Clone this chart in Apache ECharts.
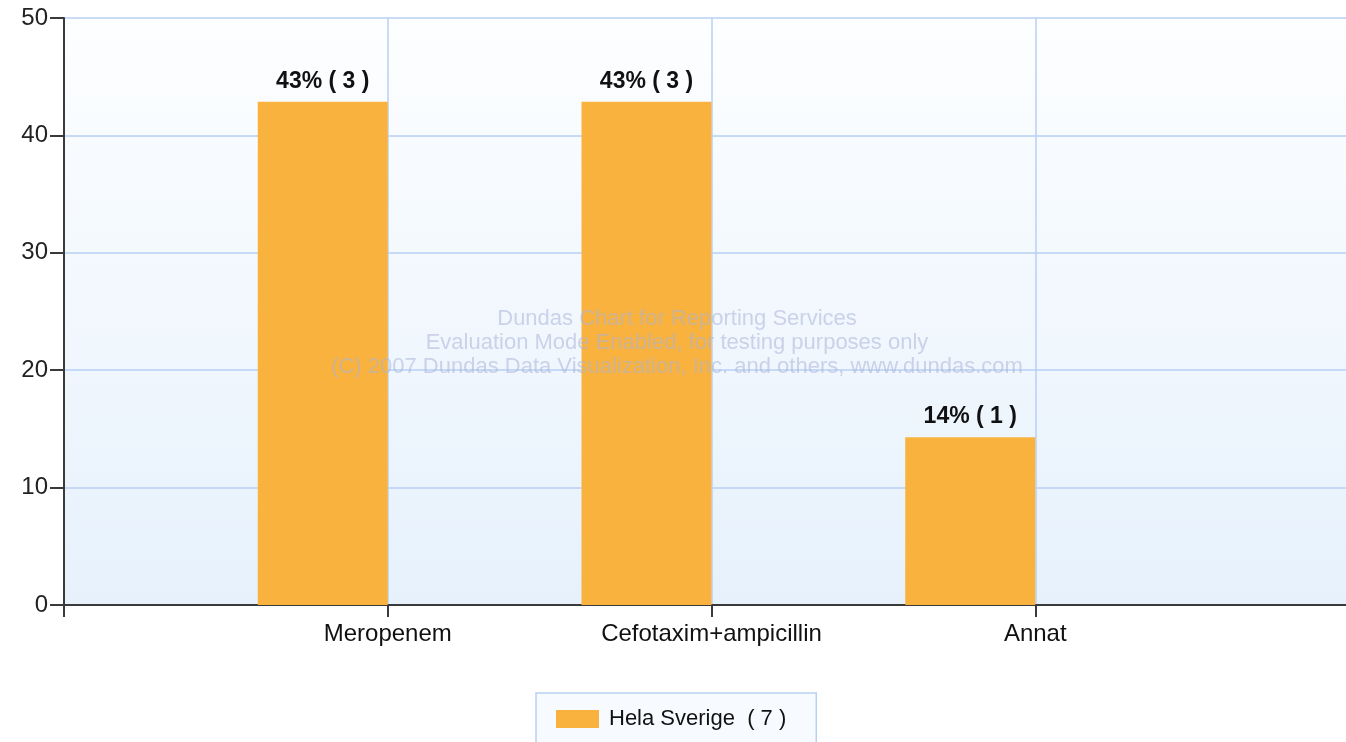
<!DOCTYPE html>
<html>
<head>
<meta charset="utf-8">
<script src="https://cdn.jsdelivr.net/npm/echarts@6/dist/echarts.min.js"></script>
<style>html,body{margin:0;padding:0;background:#fff;}#c{width:1346px;height:742px;}</style>
</head>
<body>
<div id="c"></div>
<script>
const categories = ['', 'Meropenem', 'Cefotaxim+ampicillin', 'Annat', ''];
const percentValues = [null, 42.86, 42.86, 14.29, null];
const counts = [null, 3, 3, 1, null];
const seriesName = 'Hela Sverige  ( 7 )';
const yTicks = [0, 10, 20, 30, 40, 50];
const watermarkLines = ['Dundas Chart for Reporting Services', 'Evaluation Mode Enabled, for testing purposes only', '(C) 2007 Dundas Data Visualization, Inc. and others, www.dundas.com'];

const chart = echarts.init(document.getElementById('c'), null, {renderer: 'canvas'});
const font = '"Liberation Sans", Arial, sans-serif';
chart.setOption({
  animation: false,
  backgroundColor: '#ffffff',
  grid: {
    left: 64, top: 18, bottom: 137, width: 1295, show: true, borderWidth: 0,
    outerBoundsMode: 'none', containLabel: false,
    backgroundColor: new echarts.graphic.LinearGradient(0, 0, 0, 1, [
      {offset: 0, color: '#fdfeff'}, {offset: 1, color: '#e6f1fc'}
    ])
  },
  xAxis: {
    type: 'category', data: categories, boundaryGap: false,
    axisLine: {lineStyle: {color: '#3a3a3a', width: 2}},
    axisTick: {show: true, length: 12, lineStyle: {color: '#3a3a3a', width: 2}},
    axisLabel: {color: '#111', fontFamily: font, fontSize: 24, margin: 17},
    splitLine: {show: true, lineStyle: {color: '#b8cff3', width: 1.5}}
  },
  yAxis: {
    type: 'value', min: yTicks[0], max: yTicks[yTicks.length - 1], interval: 10,
    axisLine: {show: true, lineStyle: {color: '#3a3a3a', width: 2}},
    axisTick: {show: true, length: 14, lineStyle: {color: '#3a3a3a', width: 2}},
    axisLabel: {color: '#222', fontFamily: font, fontSize: 24, margin: 16},
    splitLine: {show: true, lineStyle: {color: '#b8cff3', width: 1.5}}
  },
  legend: {
    data: [seriesName], left: 536, top: 693,
    itemWidth: 43, itemHeight: 18, itemGap: 10,
    padding: [15, 30, 30, 20],
    backgroundColor: '#f7fafe', borderColor: '#b9d1f1', borderWidth: 1.5,
    textStyle: {fontFamily: font, fontSize: 22, color: '#111', padding: [0, 0, 0, 5]},
    icon: 'rect'
  },
  series: [
    {
      name: seriesName, type: 'bar', data: percentValues, barWidth: 130, barGap: '0%',
      itemStyle: {color: '#f9b23e'},
      label: {
        show: true, position: 'top', distance: 9, fontFamily: font, fontWeight: 'bold', fontSize: 23, color: '#111',
        formatter: p => p.value == null ? '' : Math.round(p.value) + '% ( ' + counts[p.dataIndex] + ' )'
      },
      z: 3
    },
    {name: 'blank', type: 'bar', data: categories.map(() => null), barWidth: 130, barGap: '0%'}
  ],
  graphic: watermarkLines.map((t, i) => ({
    type: 'text', x: 677, y: 308 + i * 24, z: 100, silent: true,
    style: {text: t, fontFamily: font, fontSize: 22, fill: 'rgba(170,180,215,0.55)', textAlign: 'center'}
  }))
});
</script>
</body>
</html>
